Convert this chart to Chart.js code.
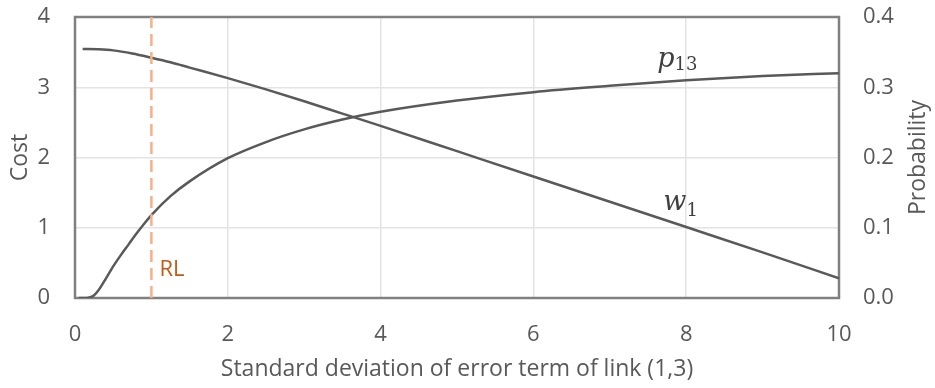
<!DOCTYPE html>
<html><head><meta charset="utf-8">
<script src="https://cdn.jsdelivr.net/npm/chart.js@4/dist/chart.umd.min.js"></script>
<style>html,body{margin:0;padding:0;background:#fff}#wrap{width:935px;height:388px}</style>
</head><body><div id="wrap"><canvas id="c"></canvas></div>
<script>
const costX = [0.1,0.3,0.5,0.75,1,1.25,1.5,2,2.5,3,3.5,4,5,6,7,8,9,10];
const w1Values = [3.545,3.54,3.525,3.48,3.42,3.355,3.28,3.13,2.97,2.80,2.625,2.45,2.09,1.73,1.37,1.01,0.65,0.28];
const probX = [0.05,0.15,0.2,0.25,0.3,0.35,0.4,0.5,0.6,0.7,0.8,0.9,1,1.25,1.5,2,2.5,3,3.5,4,5,6,7,8,9,10];
const p13Values = [0,0,0.001,0.004,0.010,0.018,0.027,0.045,0.061,0.076,0.091,0.105,0.118,0.145,0.166,0.199,0.222,0.240,0.254,0.265,0.281,0.293,0.302,0.310,0.316,0.320];
const rlX = [1,1];
const rlY = [0,4];
const xTicks = [0,2,4,6,8,10];
const costTicks = [0,1,2,3,4];
const probTicks = [0,0.1,0.2,0.3,0.4];

const FONT = "'Open Sans', sans-serif";
const GREY = '#595959';

const framePlugin = {
  id:'frame',
  beforeDatasetsDraw(chart){
    const a = chart.chartArea, ctx = chart.ctx;
    ctx.save(); ctx.strokeStyle = '#808080'; ctx.lineWidth = 2.5;
    ctx.strokeRect(a.left, a.top, a.right-a.left, a.bottom-a.top);
    ctx.restore();
  },
  afterDatasetsDraw(chart){
    const ctx = chart.ctx, xs = chart.scales.x, ys = chart.scales.y, a = chart.chartArea;
    ctx.save();
    ctx.fillStyle = GREY; ctx.font = "23px " + FONT; ctx.textAlign='center'; ctx.textBaseline='middle';
    const cy = (a.top + a.bottom)/2;
    ctx.save(); ctx.translate(20, cy); ctx.rotate(-Math.PI/2); ctx.fillText('Cost', 0, 0); ctx.restore();
    ctx.save(); ctx.translate(918, cy); ctx.rotate(-Math.PI/2); ctx.fillText('Probability', 0, 0); ctx.restore();
    ctx.textAlign='left';
    ctx.fillStyle = '#C55A11'; ctx.font = "22px " + FONT; ctx.textBaseline='middle';
    ctx.fillText('RL', xs.getPixelForValue(1)+8, ys.getPixelForValue(0.4));
    ctx.fillStyle = '#404040'; ctx.textBaseline='alphabetic';
    let x = xs.getPixelForValue(7.70), y = ys.getPixelForValue(1.25);
    ctx.font = "italic 27px 'DejaVu Serif', serif"; ctx.fillText('w', x, y);
    let wW = ctx.measureText('w').width;
    ctx.font = "18px 'DejaVu Serif', serif"; ctx.fillText('1', x+wW, y+6);
    x = xs.getPixelForValue(7.62); y = ys.getPixelForValue(3.29);
    ctx.font = "italic 27px 'DejaVu Serif', serif"; ctx.fillText('p', x, y);
    wW = ctx.measureText('p').width;
    ctx.font = "18px 'DejaVu Serif', serif"; ctx.fillText('13', x+wW, y+3);
    ctx.restore();
  }
};

new Chart(document.getElementById('c'), {
  type:'line',
  data:{datasets:[
    {label:'RL', data: rlX.map((v,i)=>({x:v,y:rlY[i]})), yAxisID:'y', borderColor:'#F4B183', borderWidth:2.5, borderDash:[12,6], pointRadius:0, tension:0},
    {label:'w1', data: costX.map((v,i)=>({x:v,y:w1Values[i]})), yAxisID:'y', borderColor:GREY, borderWidth:2.5, pointRadius:0, cubicInterpolationMode:'monotone'},
    {label:'p13', data: probX.map((v,i)=>({x:v,y:p13Values[i]})), yAxisID:'y2', borderColor:GREY, borderWidth:2.5, pointRadius:0, cubicInterpolationMode:'monotone'}
  ]},
  options:{
    responsive:true, maintainAspectRatio:false, animation:false,
    layout:{padding:{top:17,left:0,right:0,bottom:0}},
    plugins:{legend:{display:false}, tooltip:{enabled:false}},
    scales:{
      x:{type:'linear', min:0, max:10,
        afterBuildTicks(s){ s.ticks = xTicks.map(v=>({value:v})); },
        afterFit(s){ s.height = 90; s.paddingLeft = 0; s.paddingRight = 0; },
        grid:{color:'#e3e3e3', lineWidth:1.5, drawTicks:false},
        border:{display:false},
        ticks:{color:GREY, font:{family:FONT,size:22}, padding:24, maxRotation:0},
        title:{display:true, text:'Standard deviation of error term of link (1,3)', color:GREY, font:{family:FONT,size:23}, padding:{top:0,bottom:5}}
      },
      y:{position:'left', min:0, max:4,
        afterBuildTicks(s){ s.ticks = costTicks.map(v=>({value:v})); },
        afterFit(s){ s.width = 75; s.paddingTop = 0; s.paddingBottom = 0; },
        grid:{color:'#e3e3e3', lineWidth:1.5, drawTicks:false},
        border:{display:false},
        ticks:{color:GREY, font:{family:FONT,size:22}, padding:25}
      },
      y2:{position:'right', min:0, max:0.4,
        afterBuildTicks(s){ s.ticks = probTicks.map(v=>({value:v})); },
        afterFit(s){ s.width = 96; s.paddingTop = 0; s.paddingBottom = 0; },
        grid:{display:false, drawTicks:false},
        border:{display:false},
        ticks:{color:GREY, font:{family:FONT,size:22}, padding:24, callback:v=>Number(v).toFixed(1)}
      }
    }
  },
  plugins:[framePlugin]
});
</script></body></html>
